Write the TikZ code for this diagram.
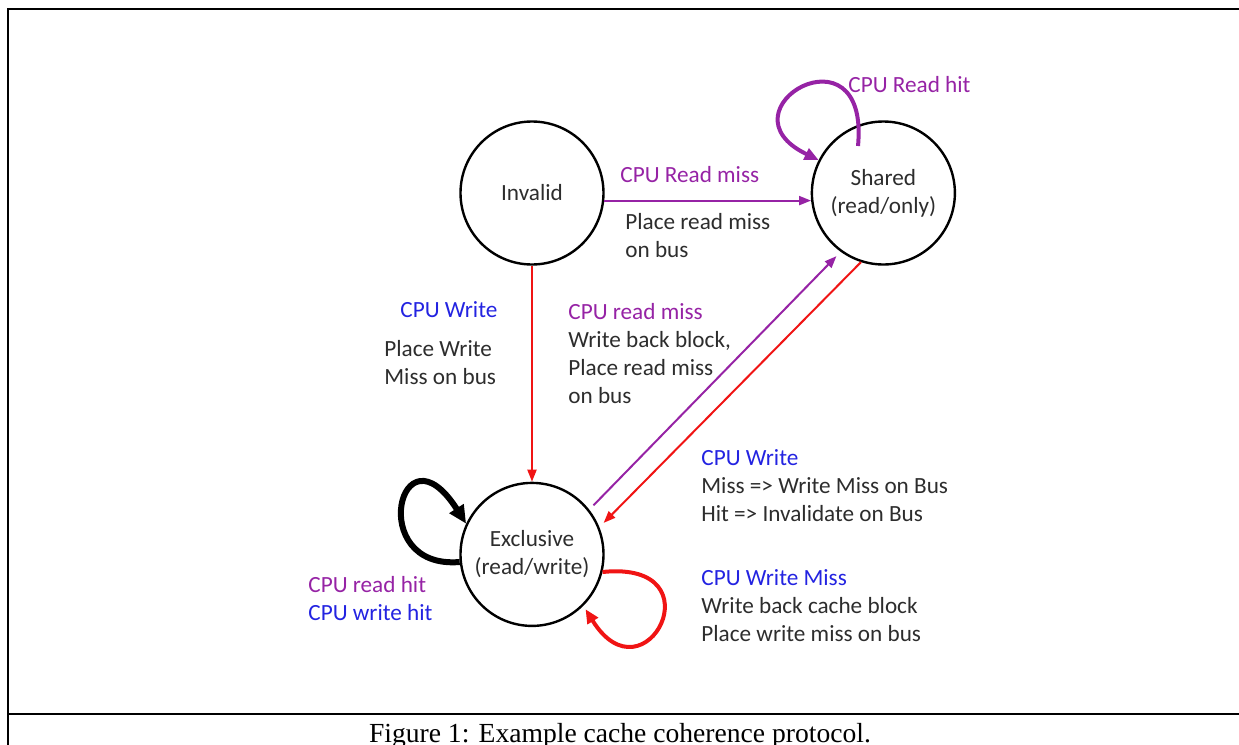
\documentclass[tikz,border=0pt]{standalone}
\usepackage{fontspec}
\setmainfont{Carlito}
\newfontfamily\captionserif{Liberation Serif}
\usetikzlibrary{positioning,arrows.meta}
\definecolor{cc-purple}{RGB}{150,35,165}
\definecolor{cc-blue}{RGB}{35,35,225}
\definecolor{cc-red}{RGB}{240,20,20}
\definecolor{cc-text}{RGB}{45,45,45}
\tikzset{
    state-circle/.style = {draw=black, line width=1.2pt, circle, minimum size=71.5pt, inner sep=0pt, text=cc-text, align=center, font=\fontsize{11.6}{14}\selectfont},
    note/.style = {anchor=base west, inner sep=0pt, align=left, text=cc-text, font=\fontsize{11.6}{14}\selectfont},
    trans-arrow/.style = {line width=1pt, -{Triangle[length=6pt,width=4.5pt]}},
    loop-arrow/.style = {line width=2pt, -{Triangle[length=7pt,width=6pt]}},
}

\begin{document}
\begin{tikzpicture}[x=0.5pt, y=-0.5pt]
\useasboundingbox (0,0) rectangle (1239,745);
\clip (0,0) rectangle (1239,745);
\draw[line width=1pt] (8,760) -- (8,9) -- (1260,9);
\draw[line width=1pt] (8,714) -- (1260,714);

\node[state-circle] (invalid) at (532,193) {Invalid};
\node[state-circle, right=103pt of invalid] (shared) {Shared\\(read/only)};
\node[state-circle, below=108pt of invalid] (exclusive) {Exclusive\\(read/write)};

\draw[trans-arrow, cc-purple] (invalid.-6) -- (shared.186);
\draw[trans-arrow, cc-red] (invalid.south) -- (exclusive.north);
\draw[trans-arrow, cc-purple, shorten <=3pt, shorten >=3pt] (exclusive.38) -- (shared.234);
\draw[trans-arrow, cc-red, shorten >=3pt] (shared.252) -- (exclusive.22);

\coordinate (rh-start) at (858,146);
\draw[loop-arrow, cc-purple] (rh-start) .. controls (870,20) and (715,110) .. (shared.153);
\draw[loop-arrow, line width=3pt, -{Triangle[length=9pt,width=8pt]}] (exclusive.186) .. controls (365,570) and (400,420) .. (exclusive.155);
\draw[loop-arrow, cc-red, shorten >=2pt] (exclusive.-14) .. controls (720,560) and (645,705) .. (exclusive.-45);

\node[note, text=cc-purple] (rh-label) at (848,92) {CPU Read hit};
\node[note, text=cc-purple] (rm-label) at (620,182) {CPU Read miss};
\node[note] (rm-action) at (625,257) {Place read miss\\on bus};
\node[note, text=cc-blue] (wr-label) at (400,317) {CPU Write};
\node[note] (wr-action) at (384,384) {Place Write\\Miss on bus};
\node[note] (wb-label) at (568,403) {\textcolor{cc-purple}{CPU read miss}\\Write back block,\\Place read miss\\on bus};
\node[note] (inv-label) at (701,521) {\textcolor{cc-blue}{CPU Write}\\Miss => Write Miss on Bus\\Hit => Invalidate on Bus};
\node[note] (wm-label) at (701,641) {\textcolor{cc-blue}{CPU Write Miss}\\Write back cache block\\Place write miss on bus};
\node[note] (hit-label) at (308,620) {\textcolor{cc-purple}{CPU read hit}\\\textcolor{cc-blue}{CPU write hit}};

\node[anchor=base, inner sep=0pt, font=\captionserif\fontsize{13.8}{16}\selectfont] (caption) at (620,742) {Figure 1: Example cache coherence protocol.};
\end{tikzpicture}
\end{document}
